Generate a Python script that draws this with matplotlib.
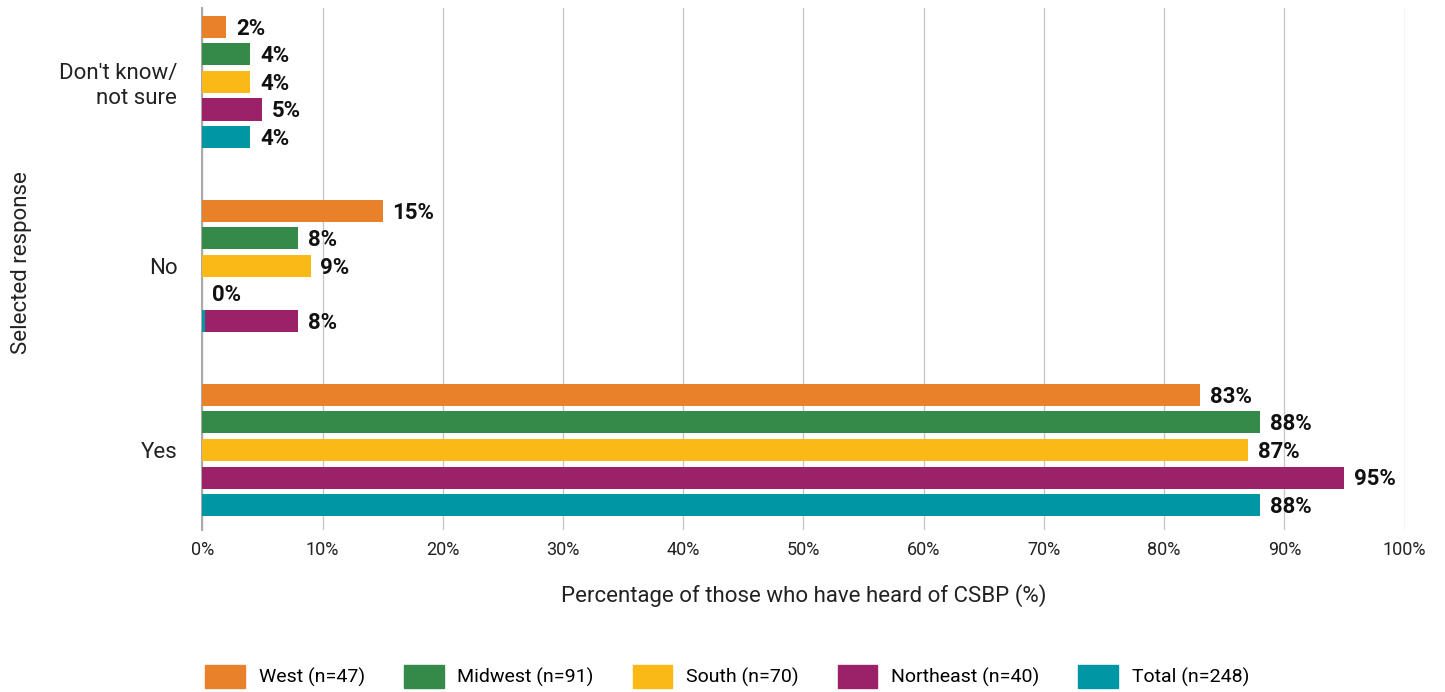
import numpy as np
import matplotlib.pyplot as plt
import matplotlib.patches as mpatches

# DATA
responses = ["Yes", "No", "Don't know/\nnot sure"]
regions = ['West (n=47)', 'Midwest (n=91)', 'South (n=70)', 'Northeast (n=40)', 'Total (n=248)']
west = [83, 15, 2]
midwest = [88, 8, 4]
south = [87, 9, 4]
northeast = [95, 0, 5]
total = [88, 8, 4]
series = [west, midwest, south, northeast, total]
colors = ['#E8822A', '#358A4A', '#FBB917', '#9B2168', '#0097A4']

plt.rcParams['font.family'] = ['Roboto', 'DejaVu Sans']

fig, ax = plt.subplots(figsize=(14.45, 6.92), dpi=100)
fig.subplots_adjust(left=0.14, right=0.972, top=0.988, bottom=0.234)

y = np.arange(len(responses))
step = 0.15
h = 0.12
for i, (vals, col) in enumerate(zip(series, colors)):
    pos = y - (i - 2) * step
    bar_cols = [col] * len(vals)
    if i == 4:
        # the source chart draws the Total "No" bar in the Northeast colour
        bar_cols[1] = colors[3]
        ax.barh(pos[1], 0.25, height=h, color=col, zorder=4)
    ax.barh(pos, vals, height=h, color=bar_cols, zorder=3)
    for p, v in zip(pos, vals):
        ax.text(v + 0.8, p - 0.01, f'{v}%', va='center', ha='left',
                fontsize=16, fontweight='bold', color='#111111')

ax.set_xlim(0, 100)
ax.set_ylim(-0.435, 2.40)
ax.set_xticks(np.arange(0, 101, 10))
ax.set_xticklabels([f'{t}%' for t in range(0, 101, 10)], fontsize=13)
ax.set_yticks(y)
ax.set_yticklabels(responses, fontsize=16)
ax.tick_params(axis='both', length=0, pad=8, colors='#222222')
ax.tick_params(axis='y', pad=18)
ax.grid(axis='x', color='#C8C8C8', linewidth=1, zorder=0)
for s in ['top', 'right', 'bottom']:
    ax.spines[s].set_visible(False)
ax.spines['left'].set_color('#AAAAAA')
ax.spines['left'].set_linewidth(1.5)

ax.set_xlabel('Percentage of those who have heard of CSBP (%)', fontsize=16, labelpad=18, color='#222222')
fig.text(0.015, 0.62, 'Selected response', rotation=90, va='center', ha='center', fontsize=16, color='#222222')

handles = [mpatches.Patch(color=c, label=l) for c, l in zip(colors, regions)]
fig.legend(handles=handles, loc='lower left', bbox_to_anchor=(0.134, -0.011), ncol=5, frameon=False,
           fontsize=14, handlelength=2.05, handleheight=1.45, columnspacing=2.0, handletextpad=0.7,
           borderaxespad=0.2)

fig.savefig('out.png', dpi=100)
